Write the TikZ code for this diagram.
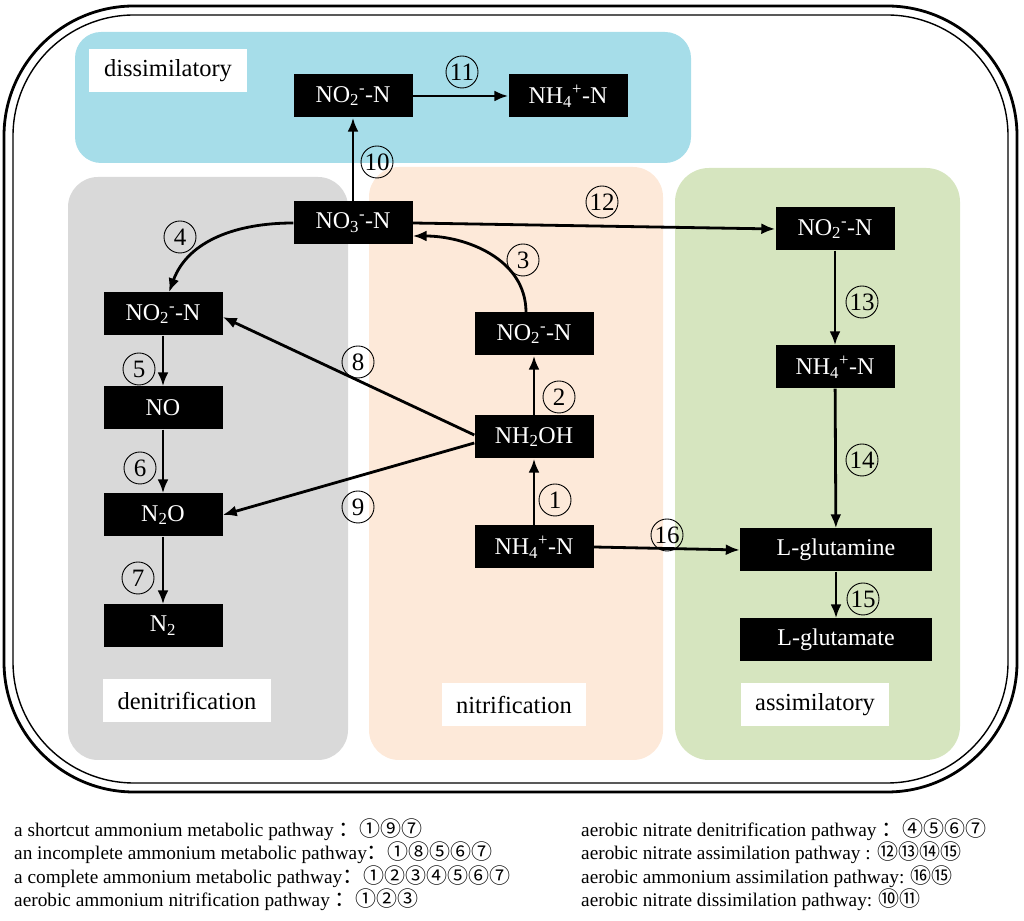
\documentclass[tikz,border=0pt]{standalone}
\usepackage{fontspec}
\setmainfont{Liberation Serif}
\newfontfamily\cjk{Noto Sans CJK SC}
\usepackage{tikz}
\usetikzlibrary{arrows.meta}
\definecolor{dissimblue}{RGB}{166,221,233}
\definecolor{denitgray}{RGB}{217,217,217}
\definecolor{nitripeach}{RGB}{253,233,217}
\definecolor{assimgreen}{RGB}{214,229,191}
\newcommand{\nitrite}{NO\textsubscript{2}\textsuperscript{-}-N}
\newcommand{\nitrate}{NO\textsubscript{3}\textsuperscript{-}-N}
\newcommand{\ammonium}{NH\textsubscript{4}\textsuperscript{+}-N}
\newcommand{\circnum}[1]{{\cjk\fontsize{21}{22}\selectfont #1}}

\begin{document}
\begin{tikzpicture}[x=1pt, y=1pt,
    species/.style={fill=black, text=white, minimum width=119pt, minimum height=43pt,
        inner sep=0pt, font=\fontsize{24}{28}\selectfont},
    tag/.style={fill=white, minimum height=43pt, inner sep=0pt, font=\fontsize{24.5}{28}\selectfont},
    num/.style={circle, draw, line width=0.9pt, minimum size=32pt, inner sep=0pt,
        font=\fontsize{25}{25}\selectfont},
    flow/.style={line width=2.8pt, -{Latex[length=14pt,width=11pt]}},
    legend/.style={anchor=base west, inner sep=0pt, font=\fontsize{19.3}{22}\selectfont}]
    \useasboundingbox (0,0) rectangle (1024,920);
    % cell wall
    \draw[line width=2.8pt, rounded corners=130pt] (4,128) rectangle (1017,914);
    \draw[line width=1.4pt, rounded corners=121pt] (13,137) rectangle (1008,905);
    % pathway zones
    \fill[dissimblue, rounded corners=26pt] (75,757) rectangle (691,888);
    \fill[denitgray, rounded corners=30pt] (68,160) rectangle (348,743);
    \fill[nitripeach, rounded corners=30pt] (369,160) rectangle (663,753);
    \fill[assimgreen, rounded corners=34pt] (675,160) rectangle (960,752);
    \node[tag, minimum width=158pt] (tdissim) at (168,849.5) {dissimilatory};
    \node[tag, minimum width=168pt] (tdenit) at (187,219.5) {denitrification};
    \node[tag, minimum width=144pt] (tnitri) at (514,215.5) {nitrification};
    \node[tag, minimum width=148pt] (tassim) at (815,215.5) {assimilatory};
    % species
    \node[species] (dNO2) at (353,824) {\nitrite};
    \node[species] (dNH4) at (568,824) {\ammonium};
    \node[species] (NO3) at (353,697) {\nitrate};
    \node[species] (gNO2) at (163,606) {\nitrite};
    \node[species] (NO) at (163,512) {NO};
    \node[species] (N2O) at (163,405) {N\textsubscript{2}O};
    \node[species] (N2) at (163,294) {N\textsubscript{2}};
    \node[species] (nNO2) at (534,586) {\nitrite};
    \node[species] (NH2OH) at (534,483) {NH\textsubscript{2}OH};
    \node[species] (nNH4) at (534,373) {\ammonium};
    \node[species] (aNO2) at (835,691) {\nitrite};
    \node[species] (aNH4) at (835,553) {\ammonium};
    \node[species, minimum width=192pt] (Lgln) at (836,370) {L-glutamine};
    \node[species, minimum width=192pt] (Lglu) at (836,280) {L-glutamate};
    % reactions
    \draw[flow] (nNH4) -- (NH2OH);
    \draw[flow] (NH2OH) -- (nNO2);
    \draw[flow] ([xshift=-8pt]nNO2.north) to[out=90,in=0] ([yshift=-13pt]NO3.east);
    \draw[flow] (NO3.west) to[out=180,in=70] ([xshift=6pt]gNO2.north);
    \draw[flow] (gNO2) -- (NO);
    \draw[flow] (NO) -- (N2O);
    \draw[flow] (N2O) -- (N2);
    \draw[flow] ([yshift=2pt]NH2OH.west) -- ([yshift=-3pt]gNO2.east);
    \draw[flow] ([yshift=-6pt]NH2OH.west) -- (N2O.east);
    \draw[flow] (NO3) -- (dNO2);
    \draw[flow] (dNO2) -- (dNH4);
    \draw[flow] (NO3.east) -- (aNO2.west);
    \draw[flow] (aNO2) -- (aNH4);
    \draw[flow] (aNH4) -- (Lgln);
    \draw[flow] (Lgln) -- (Lglu);
    \draw[flow] (nNH4.east) -- (Lgln.west);
    % step numbers
    \foreach \k/\x/\y in {1/555/420, 2/559/523, 3/523/660, 4/180/683, 5/139/551,
        6/140/452, 7/138/342, 8/358/558, 9/358/413, 10/377/758, 11/462/848,
        12/602/718, 13/862/618, 14/862/460, 15/863/321, 16/667/385}
        \node[num] (n\k) at (\x,\y) {\k};
    % pathways
    \node[legend] (p1) at (14,83) {a shortcut ammonium metabolic pathway \circnum{：①⑨⑦}};
    \node[legend] (p2) at (14,60) {an incomplete ammonium metabolic pathway\circnum{：①⑧⑤⑥⑦}};
    \node[legend] (p3) at (14,37) {a complete ammonium metabolic pathway\circnum{：①②③④⑤⑥⑦}};
    \node[legend] (p4) at (14,14) {aerobic ammonium nitrification pathway \circnum{：①②③}};
    \node[legend] (p5) at (581,83) {aerobic nitrate denitrification pathway \circnum{：④⑤⑥⑦}};
    \node[legend] (p6) at (581,60) {aerobic nitrate assimilation pathway : \circnum{⑫⑬⑭⑮}};
    \node[legend] (p7) at (581,37) {aerobic ammonium assimilation pathway: \circnum{⑯⑮}};
    \node[legend] (p8) at (581,14) {aerobic nitrate dissimilation pathway: \circnum{⑩⑪}};
\end{tikzpicture}
\end{document}
